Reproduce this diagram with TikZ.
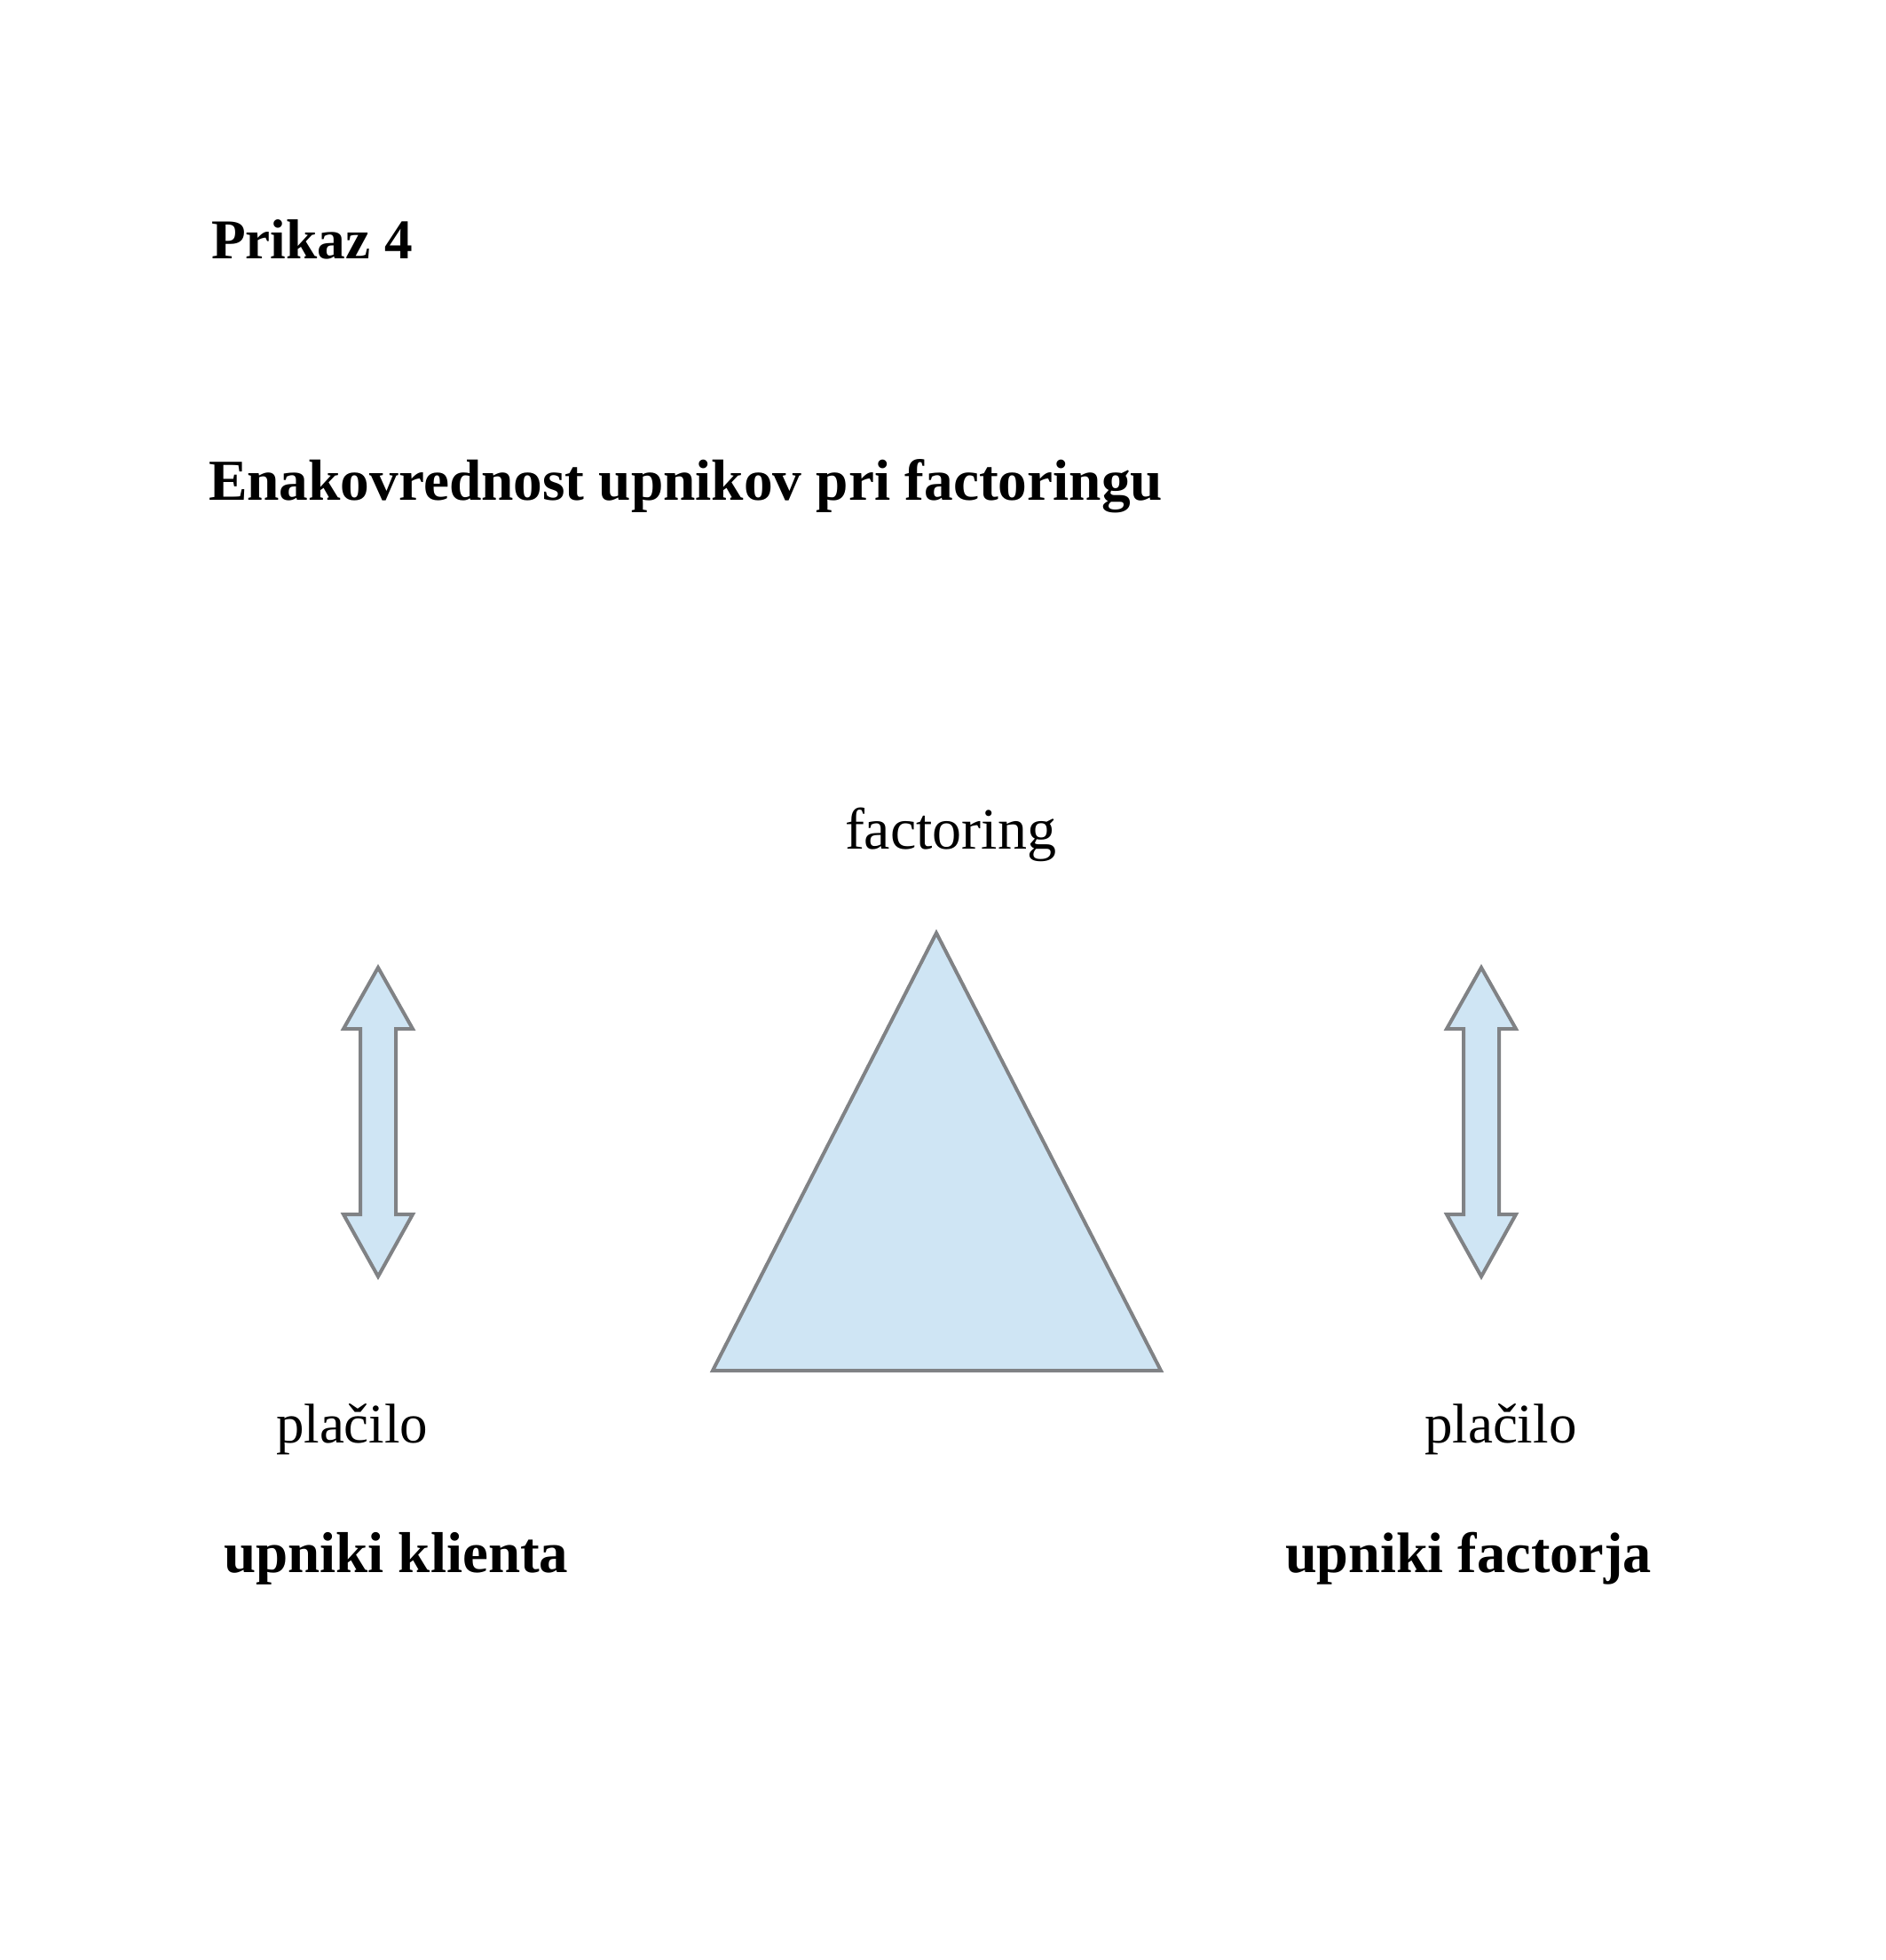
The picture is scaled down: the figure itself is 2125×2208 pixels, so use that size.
\documentclass[tikz,border=0pt]{standalone}
\usepackage{fontspec}
\setmainfont{Liberation Serif}
\definecolor{shapefill}{HTML}{CFE5F4}
\definecolor{shapeline}{HTML}{808285}
\begin{document}
\begin{tikzpicture}[x=0.3pt,y=-0.3pt,
  lbl/.style={inner sep=0pt,outer sep=0pt,anchor=base west},
  shp/.style={fill=shapefill,draw=shapeline,line width=1.2pt,line join=miter}]
\useasboundingbox (0,0) rectangle (2125,2208);
% texts
\node[lbl,font=\fontsize{19.0pt}{23pt}\selectfont\bfseries] (prikaz) at (238,292) {Prikaz 4};
\node[lbl,font=\fontsize{19.6pt}{23pt}\selectfont\bfseries] (title) at (235,563) {Enakovrednost upnikov pri factoringu};
\node[lbl,font=\fontsize{19.8pt}{23pt}\selectfont] (fact) at (952,956) {factoring};
\node[lbl,font=\fontsize{18.9pt}{23pt}\selectfont] (placL) at (311,1625) {plačilo};
\node[lbl,font=\fontsize{18.9pt}{23pt}\selectfont] (placR) at (1605,1625) {plačilo};
\node[lbl,font=\fontsize{19.5pt}{23pt}\selectfont\bfseries] (upL) at (252,1771) {upniki klienta};
\node[lbl,font=\fontsize{19.3pt}{23pt}\selectfont\bfseries] (upR) at (1448,1771) {upniki factorja};
% triangle
\draw[shp] (1055,1051) -- (1308,1544) -- (803,1544) -- cycle;
% double arrows
\foreach \cx in {426,1669}{
  \draw[shp] (\cx,1090) -- (\cx+39,1159) -- (\cx+20,1159) -- (\cx+20,1368)
    -- (\cx+39,1368) -- (\cx,1438) -- (\cx-39,1368) -- (\cx-20,1368)
    -- (\cx-20,1159) -- (\cx-39,1159) -- cycle;
}
\end{tikzpicture}
\end{document}
